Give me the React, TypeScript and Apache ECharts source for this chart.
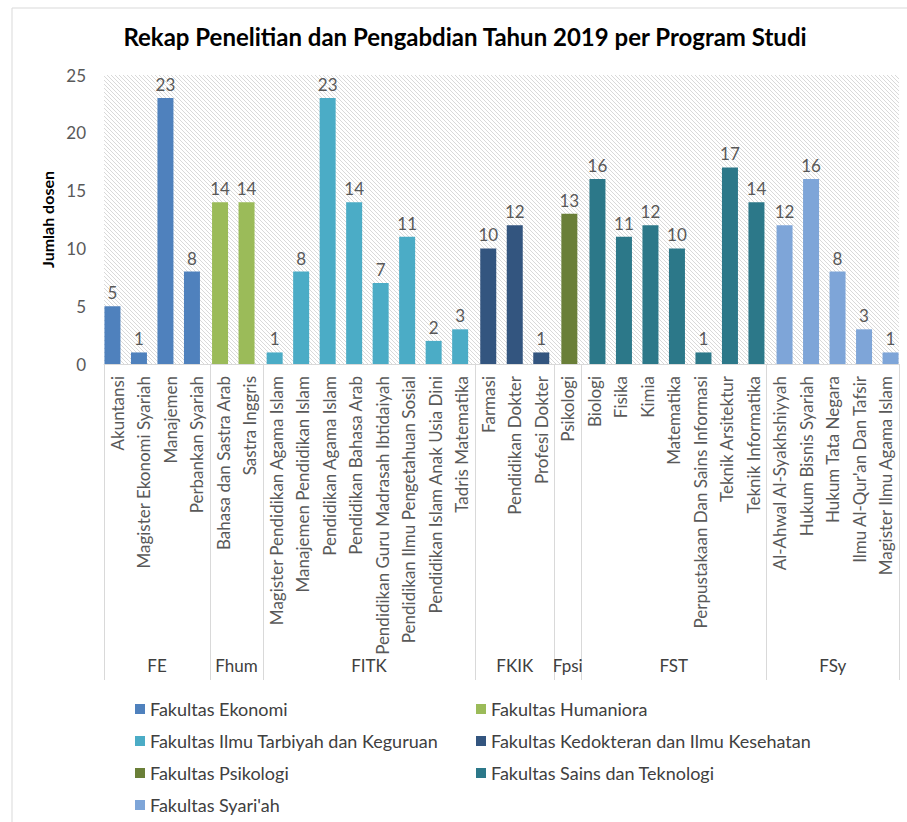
import React, { useEffect, useRef } from "react";
import * as echarts from "echarts";

const TITLE = "Rekap Penelitian dan Pengabdian Tahun 2019 per Program Studi";
const Y_NAME = "Jumlah dosen";

const programs = [
  "Akuntansi",
  "Magister Ekonomi Syariah",
  "Manajemen",
  "Perbankan Syariah",
  "Bahasa dan Sastra Arab",
  "Sastra Inggris",
  "Magister Pendidikan Agama Islam",
  "Manajemen Pendidikan Islam",
  "Pendidikan Agama Islam",
  "Pendidikan Bahasa Arab",
  "Pendidikan Guru Madrasah Ibtidaiyah",
  "Pendidikan Ilmu Pengetahuan Sosial",
  "Pendidikan Islam Anak Usia Dini",
  "Tadris Matematika",
  "Farmasi",
  "Pendidikan Dokter",
  "Profesi Dokter",
  "Psikologi",
  "Biologi",
  "Fisika",
  "Kimia",
  "Matematika",
  "Perpustakaan Dan Sains Informasi",
  "Teknik Arsitektur",
  "Teknik Informatika",
  "Al-Ahwal Al-Syakhshiyyah",
  "Hukum Bisnis Syariah",
  "Hukum Tata Negara",
  "Ilmu Al-Qur'an Dan Tafsir",
  "Magister Ilmu Agama Islam",
];

const lecturers = [
  5, 1, 23, 8,
  14, 14,
  1, 8, 23, 14, 7, 11, 2, 3,
  10, 12, 1,
  13,
  16, 11, 12, 10, 1, 17, 14,
  12, 16, 8, 3, 1,
];

const facultyCodes = ["FE", "Fhum", "FITK", "FKIK", "Fpsi", "FST", "FSy"];
const facultyNames = [
  "Fakultas Ekonomi",
  "Fakultas Humaniora",
  "Fakultas Ilmu Tarbiyah dan Keguruan",
  "Fakultas Kedokteran dan Ilmu Kesehatan",
  "Fakultas Psikologi",
  "Fakultas Sains dan Teknologi",
  "Fakultas Syari'ah",
];
const programsPerFaculty = [4, 2, 8, 3, 1, 7, 5];
const facultyColors = ["#4F81BD", "#9BBB59", "#4BACC6", "#33557F", "#6A7F38", "#2C7889", "#7EA5D8"];

const yTicks = [0, 5, 10, 15, 20, 25];

const FONT = "Lato";

function makeHatch(): HTMLCanvasElement {
  const s = 4;
  const c = document.createElement("canvas");
  c.width = s;
  c.height = s;
  const ctx = c.getContext("2d")!;
  ctx.fillStyle = "#ffffff";
  ctx.fillRect(0, 0, s, s);
  ctx.strokeStyle = "#d9d9d9";
  ctx.lineWidth = 1;
  for (const off of [-s, 0, s]) {
    ctx.beginPath();
    ctx.moveTo(-1, -1 + off);
    ctx.lineTo(s + 1, s + 1 + off);
    ctx.stroke();
  }
  return c;
}

export default function App() {
  const ref = useRef<HTMLDivElement>(null);

  useEffect(() => {
    if (!ref.current) return;
    const chart = echarts.init(ref.current, undefined, { renderer: "svg" });

    const starts: number[] = [];
    let acc = 0;
    programsPerFaculty.forEach((n) => {
      starts.push(acc);
      acc += n;
    });
    const boundaries = [...starts, acc];
    const centers = starts.map((s, i) => s + programsPerFaculty[i] / 2);

    const series = facultyNames.map((name, i) => ({
      name,
      type: "bar",
      xAxisIndex: 0,
      yAxisIndex: 0,
      barWidth: 16,
      barGap: "-90%",
      itemStyle: { color: facultyColors[i] },
      label: {
        show: true,
        position: "top",
        distance: 5,
        color: "#595959",
        fontSize: 17,
        fontFamily: FONT,
      },
      data: lecturers.map((v, j) =>
        j >= starts[i] && j < starts[i] + programsPerFaculty[i] ? v : null
      ),
    }));

    const legendText = { fontFamily: FONT, fontSize: 18, color: "#404040", lineHeight: 18 };

    chart.setOption({
      animation: false,
      textStyle: { fontFamily: FONT },
      title: {
        text: TITLE,
        left: 465,
        top: 24,
        padding: 0,
        textAlign: "center",
        textStyle: { fontFamily: FONT, fontSize: 24, fontWeight: "bold", color: "#000" },
      },
      graphic: [
        {
          type: "rect",
          shape: { x: 12, y: 8, width: 1000, height: 1000 },
          style: { fill: "none", stroke: "#d9d9d9", lineWidth: 1 },
          silent: true,
        },
      ],
      legend: [
        {
          data: [facultyNames[0], facultyNames[2], facultyNames[4], facultyNames[6]],
          orient: "vertical",
          left: 135,
          top: 700,
          padding: 0,
          itemWidth: 10,
          itemHeight: 10,
          itemGap: 14,
          icon: "rect",
          selectedMode: false,
          textStyle: legendText,
        },
        {
          data: [facultyNames[1], facultyNames[3], facultyNames[5]],
          orient: "vertical",
          left: 476,
          top: 700,
          padding: 0,
          itemWidth: 10,
          itemHeight: 10,
          itemGap: 14,
          icon: "rect",
          selectedMode: false,
          textStyle: legendText,
        },
      ],
      grid: {
        left: 104,
        right: 8,
        top: 75,
        bottom: 458,
        containLabel: false,
        outerBoundsMode: "none",
        show: true,
        borderWidth: 0,
        backgroundColor: { image: makeHatch(), repeat: "repeat", imageWidth: 4, imageHeight: 4 },
      },
      xAxis: [
        {
          type: "category",
          data: programs,
          position: "bottom",
          axisLine: { show: true, lineStyle: { color: "#d9d9d9", width: 1 } },
          axisTick: { show: false },
          axisLabel: {
            rotate: 90,
            interval: 0,
            margin: 12,
            fontSize: 17,
            fontFamily: FONT,
            color: "#595959",
          },
          splitLine: { show: false },
        },
        {
          type: "value",
          min: 0,
          max: programs.length,
          position: "bottom",
          offset: 316,
          axisLine: { show: false },
          axisTick: {
            show: true,
            inside: true,
            length: 316,
            customValues: boundaries,
            lineStyle: { color: "#d9d9d9", width: 1 },
          },
          axisLabel: {
            show: true,
            inside: true,
            margin: 6,
            customValues: centers,
            formatter: (v: number) => {
              const idx = centers.findIndex((c) => Math.abs(c - v) < 1e-6);
              return idx >= 0 ? facultyCodes[idx] : "";
            },
            fontSize: 17,
            fontFamily: FONT,
            color: "#404040",
          },
          splitLine: { show: false },
        },
      ],
      yAxis: {
        type: "value",
        min: yTicks[0],
        max: yTicks[yTicks.length - 1],
        interval: yTicks[1] - yTicks[0],
        axisLine: { show: false },
        axisTick: { show: false },
        splitLine: { show: false },
        axisLabel: { fontSize: 17, fontFamily: FONT, color: "#595959", margin: 18 },
        name: Y_NAME,
        nameLocation: "middle",
        nameGap: 49,
        nameTextStyle: { fontFamily: FONT, fontSize: 16, fontWeight: "bold", color: "#000" },
      },
      series,
    });

    return () => chart.dispose();
  }, []);

  return (
    <div
      ref={ref}
      style={{ position: "absolute", left: 0, top: 0, width: 907, height: 822, background: "#fff" }}
    />
  );
}
